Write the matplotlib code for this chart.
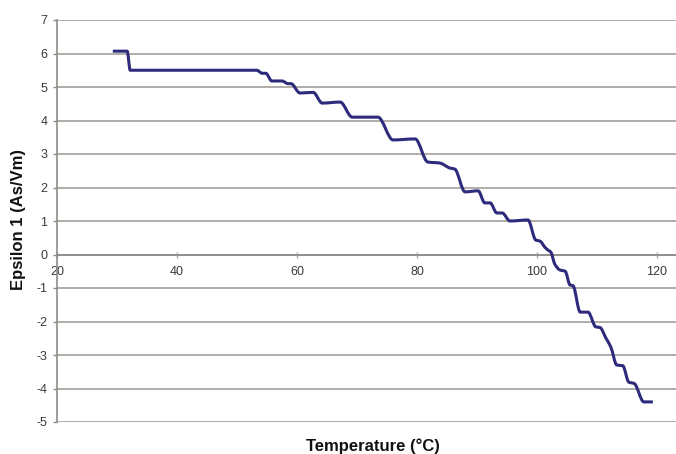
import matplotlib
matplotlib.use("Agg")
import matplotlib.pyplot as plt
from matplotlib.path import Path
from matplotlib.patches import PathPatch
import numpy as np

temperature = [29.3, 31.7, 32.2, 53.3, 54.2, 54.8, 55.8, 57.5, 58.5, 59.0,
               60.5, 62.7, 64.2, 67.2, 69.2, 73.5, 76.0, 79.7, 81.8, 83.8,
               85.5, 86.3, 88.0, 90.2, 91.3, 92.2, 93.3, 94.2, 95.5, 98.5,
               99.8, 100.5, 101.3, 101.7, 102.3, 103.0, 103.8, 104.7, 105.5, 106.0,
               107.2, 108.5, 109.8, 110.5, 111.5, 112.3, 113.3, 114.3, 115.3, 116.2,
               117.8, 119.3]
epsilon = [6.07, 6.07, 5.50, 5.50, 5.41, 5.41, 5.18, 5.18, 5.10, 5.10,
           4.82, 4.84, 4.52, 4.55, 4.10, 4.10, 3.42, 3.45, 2.76, 2.73,
           2.58, 2.55, 1.87, 1.90, 1.54, 1.54, 1.24, 1.24, 1.00, 1.03,
           0.43, 0.40, 0.22, 0.15, 0.07, -0.30, -0.46, -0.50, -0.91, -0.93,
           -1.72, -1.72, -2.16, -2.18, -2.50, -2.76, -3.30, -3.32, -3.81, -3.85,
           -4.40, -4.40]

x_ticks = [20, 40, 60, 80, 100, 120]
y_ticks = [-5, -4, -3, -2, -1, 0, 1, 2, 3, 4, 5, 6, 7]

plt.rcParams['font.family'] = ['Liberation Sans', 'DejaVu Sans']

fig = plt.figure(figsize=(6.76, 4.54), dpi=100)
ax = fig.add_axes([57/676, 1-422/454, 1-57/676, (422-20)/454])

grid_col = '#b0aca8'
for yv in y_ticks:
    ax.axhline(yv, color=grid_col, lw=1.4, zorder=1)


def smooth_path(xs, ys):
    # smoothed line through the points (monotone cubic Bezier segments, no overshoot)
    x = np.asarray(xs, float)
    y = np.asarray(ys, float)
    n = len(x)
    h = np.diff(x)
    d = np.diff(y) / h
    m = np.zeros(n)
    for i in range(1, n - 1):
        if d[i - 1] * d[i] > 0:
            w1 = 2 * h[i] + h[i - 1]
            w2 = h[i] + 2 * h[i - 1]
            m[i] = (w1 + w2) / (w1 / d[i - 1] + w2 / d[i])
    verts = [(x[0], y[0])]
    codes = [Path.MOVETO]
    for i in range(n - 1):
        verts += [(x[i] + h[i] / 3, y[i] + m[i] * h[i] / 3),
                  (x[i + 1] - h[i] / 3, y[i + 1] - m[i + 1] * h[i] / 3),
                  (x[i + 1], y[i + 1])]
        codes += [Path.CURVE4] * 3
    return Path(verts, codes)


patch = PathPatch(smooth_path(temperature, epsilon), facecolor='none',
                  edgecolor='#2e2b7c', lw=2.2, joinstyle='round', zorder=3)
ax.add_patch(patch)

ax.set_xlim(20, 20 + (676-57)/6)
ax.set_ylim(-5, 7)
ax.set_xticks(x_ticks)
ax.set_yticks(y_ticks)
ax.set_yticklabels([str(v) for v in y_ticks])
ax.set_xticklabels([str(v) for v in x_ticks])

for s in ['top', 'right']:
    ax.spines[s].set_visible(False)
ax.spines['left'].set_color('#8f8b88')
ax.spines['left'].set_linewidth(1.2)
ax.spines['bottom'].set_position(('data', 0))
ax.spines['bottom'].set_color('#8f8b88')
ax.spines['bottom'].set_linewidth(1.2)

ax.tick_params(axis='y', direction='out', length=3, width=1, color='#8f8b88',
               labelsize=9, labelcolor='#3a3a3a', pad=4)
ax.tick_params(axis='x', direction='inout', length=5, width=1, color='#b0aca8',
               labelsize=9, labelcolor='#3a3a3a', pad=6)

fig.text(19/676, 1-220/454, 'Epsilon 1 (As/Vm)', rotation=90, ha='center', va='center',
         fontsize=12, fontweight='bold', color='#111111')
fig.text(373/676, 1-446/454, 'Temperature (°C)', ha='center', va='center',
         fontsize=12, fontweight='bold', color='#111111')

fig.savefig('out.png', dpi=100)
